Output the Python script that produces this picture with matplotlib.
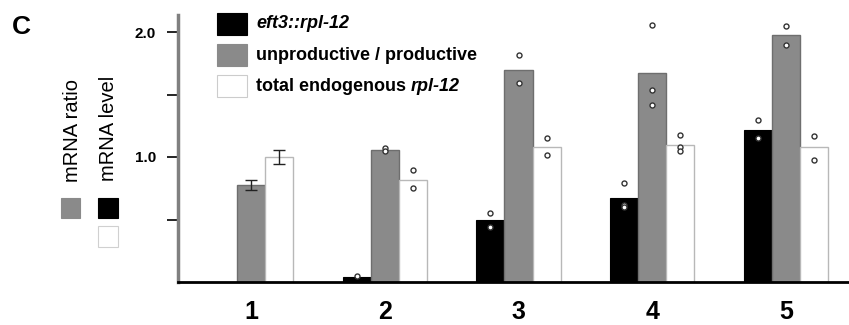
import matplotlib
matplotlib.use('Agg')
import matplotlib.pyplot as plt
from matplotlib.patches import Rectangle

plt.rcParams['font.family'] = ['Liberation Sans', 'DejaVu Sans']

# data
groups = ['1', '2', '3', '4', '5']
level_eft3 = [0.0, 0.04, 0.50, 0.675, 1.22]          # black bars
ratio_unprod = [0.78, 1.06, 1.70, 1.67, 1.98]        # gray bars
total_endog = [1.00, 0.82, 1.08, 1.10, 1.08]         # white bars
# error bars only shown for group 1
err_unprod = [0.04, None, None, None, None]
err_total = [0.055, None, None, None, None]

# individual measurements (open circles)
pts_eft3 = [[], [0.05], [0.55, 0.44], [0.79, 0.62, 0.60], [1.30, 1.15]]
pts_unprod = [[], [1.07, 1.05], [1.82, 1.59], [2.06, 1.54, 1.42], [2.05, 1.90]]
pts_total = [[], [0.90, 0.755], [1.15, 1.02], [1.18, 1.08, 1.05], [1.17, 0.98]]

W, H = 849, 325
fig = plt.figure(figsize=(W / 100, H / 100), dpi=100)
ax = fig.add_axes([178 / W, 43 / H, 1 - 178 / W, (282 - 15) / H])

x = list(range(1, len(groups) + 1))
bw = 0.21
xb = [i - bw for i in x]
xw = [i + bw for i in x]

ax.bar(xb, level_eft3, width=bw, color='black', edgecolor='black', linewidth=0.8)
ax.bar(x, ratio_unprod, width=bw, color='#8a8a8a', edgecolor='#6e6e6e', linewidth=1.0)
ax.bar(xw, total_endog, width=bw, color='white', edgecolor='#b8b8b8', linewidth=1.0)

for pos, vals, errs in ((x, ratio_unprod, err_unprod), (xw, total_endog, err_total)):
    for xi, v, e in zip(pos, vals, errs):
        if e is not None:
            ax.errorbar(xi, v, yerr=e, fmt='none', ecolor='#222222', capsize=4,
                        elinewidth=1, capthick=1, zorder=4)

for pos, pts in ((xb, pts_eft3), (x, pts_unprod), (xw, pts_total)):
    for xi, vals in zip(pos, pts):
        ax.plot([xi] * len(vals), vals, 'o', ms=3.6, mfc='white', mec='#333333',
                mew=1.0, ls='none', zorder=5)

ax.set_xlim(0.455, 5.47)
ax.set_ylim(0, 2.136)
ax.set_xticks(x)
ax.set_xticklabels(groups, fontsize=18, fontweight='bold')
ax.tick_params(axis='x', length=0, pad=13)
ax.set_yticks([0.5, 1.0, 1.5, 2.0])
ax.set_yticklabels(['', '1.0', '', '2.0'], fontsize=11, fontweight='bold')
ax.tick_params(axis='y', length=8, width=1.2, pad=8, color='black')

for s in ('top', 'right'):
    ax.spines[s].set_visible(False)
ax.spines['left'].set_color('#808080')
ax.spines['left'].set_linewidth(2.5)
ax.spines['bottom'].set_color('black')
ax.spines['bottom'].set_linewidth(2)


def fig_rect(x0, y0, x1, y1, fc, ec):
    fig.add_artist(Rectangle((x0 / W, 1 - y1 / H), (x1 - x0) / W, (y1 - y0) / H,
                             transform=fig.transFigure, facecolor=fc, edgecolor=ec,
                             linewidth=0.8))


# top legend
fs_leg = 13
fig_rect(217, 13, 247, 35, 'black', 'black')
fig_rect(217, 44, 247, 66, '#8a8a8a', '#8a8a8a')
fig_rect(217, 75, 247, 97, 'white', '#cccccc')
fig.text(256 / W, 1 - 24 / H, 'eft3::rpl-12', fontsize=fs_leg, fontweight='bold',
         style='italic', va='center')
fig.text(256 / W, 1 - 55 / H, 'unproductive / productive', fontsize=fs_leg,
         fontweight='bold', va='center')
t = fig.text(256 / W, 1 - 86 / H, 'total endogenous ', fontsize=fs_leg,
             fontweight='bold', va='center')
fig.canvas.draw()
bb = t.get_window_extent()
fig.text(bb.x1 / W, 1 - 86 / H, 'rpl-12', fontsize=fs_leg, fontweight='bold',
         style='italic', va='center')

# left-side key
fig.text(21 / W, 1 - 27 / H, 'C', fontsize=19, fontweight='bold', ha='center', va='center')
fig.text(72 / W, 1 - 130 / H, 'mRNA ratio', fontsize=14.5, rotation=90,
         ha='center', va='center')
fig.text(109 / W, 1 - 128 / H, 'mRNA level', fontsize=14.5, rotation=90,
         ha='center', va='center')
fig_rect(61, 198, 80, 218, '#8a8a8a', '#8a8a8a')
fig_rect(98, 198, 118, 218, 'black', 'black')
fig_rect(98, 226, 118, 247, 'white', '#d0d0d0')

fig.savefig('out.png', dpi=100)
